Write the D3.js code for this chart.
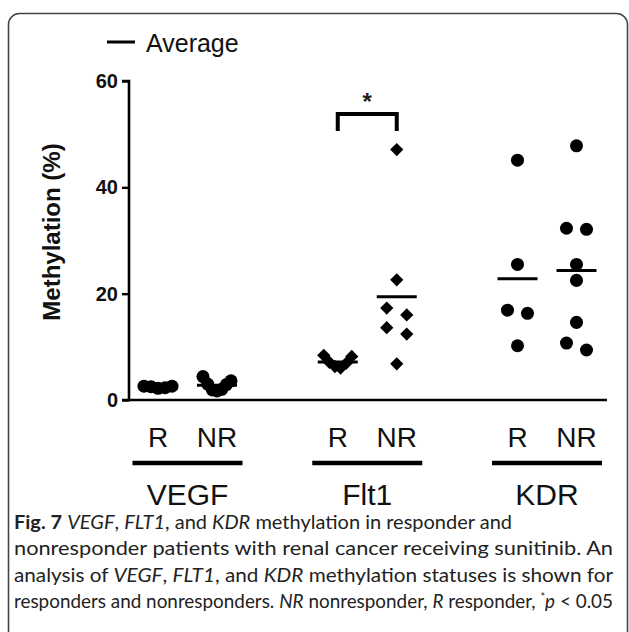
<!DOCTYPE html>
<html>
<head>
<meta charset="utf-8">
<script src="https://cdn.jsdelivr.net/npm/d3@7"></script>
<style>
  body { margin: 0; background: #fff; }
  svg { display: block; }
</style>
</head>
<body>
<div id="chart"></div>
<script>
// data (methylation %)
var groups = ["VEGF", "Flt1", "KDR"];
var subgroups = ["R", "NR"];
var yTicks = [0, 20, 40, 60];

var vegfR = [2.3, 2.6, 2.5, 2.6, 2.2];
var vegfNR = [4.4, 3.6, 3.0, 2.9, 2.0, 1.9, 1.7];
var flt1R = [8.4, 8.2, 7.1, 6.9, 6.3, 6.0];
var flt1NR = [47.1, 22.6, 17.3, 16.0, 13.6, 12.4, 6.8];
var kdrR = [45.1, 25.5, 16.9, 16.3, 10.2];
var kdrNR = [47.8, 32.3, 32.1, 25.5, 22.5, 14.6, 10.7, 9.4];

var series = [
  {group: "VEGF", sub: "R", values: vegfR, shape: "circle"},
  {group: "VEGF", sub: "NR", values: vegfNR, shape: "circle"},
  {group: "Flt1", sub: "R", values: flt1R, shape: "diamond"},
  {group: "Flt1", sub: "NR", values: flt1NR, shape: "diamond"},
  {group: "KDR", sub: "R", values: kdrR, shape: "circle"},
  {group: "KDR", sub: "NR", values: kdrNR, shape: "circle"}
];

var width = 629, height = 632;

var svg = d3.select("#chart")
  .append("svg")
    .attr("width", width)
    .attr("height", height);

// rounded frame
svg.append("rect")
  .attr("x", 8.5).attr("y", 13.5)
  .attr("width", 619).attr("height", 628)
  .attr("rx", 11)
  .attr("fill", "none")
  .attr("stroke", "#444")
  .attr("stroke-width", 1.6);

// scales
var y = d3.scaleLinear().domain([0, 60]).range([400, 81]);
var xGroup = d3.scalePoint().domain(groups).range([187.5, 547]);
var xSub = d3.scalePoint().domain(subgroups).range([-29.5, 29.5]);
var xPos = function(g, s) { return xGroup(g) + xSub(s); };

var axisLeft = 129, axisRight = 607;

// y axis
var yAxis = svg.append("g")
  .attr("transform", "translate(" + axisLeft + ",0)")
  .call(d3.axisLeft(y).tickValues(yTicks).tickSize(7).tickPadding(4));
yAxis.select(".domain").attr("stroke-width", 2.6).attr("d", "M-7," + y(60) + "H0V" + y(0) + "H-7");
yAxis.selectAll(".tick line").attr("stroke-width", 2.4);
yAxis.selectAll(".tick text")
  .attr("font-family", "Liberation Sans, Arial, sans-serif")
  .attr("font-weight", "bold")
  .attr("font-size", "20px")
  .attr("fill", "#111");

// x axis line
svg.append("line")
  .attr("x1", axisLeft).attr("x2", axisRight)
  .attr("y1", y(0)).attr("y2", y(0))
  .attr("stroke", "#000").attr("stroke-width", 2.6);

// y label
svg.append("text")
  .attr("transform", "translate(60," + 232 + ") rotate(-90)")
  .attr("text-anchor", "middle")
  .attr("font-family", "Liberation Sans, Arial, sans-serif")
  .attr("font-weight", "bold")
  .attr("font-size", "24px")
  .attr("fill", "#111")
  .text("Methylation (%)");

// beeswarm-ish layout: points closer than 10px vertically share a row
function layout(values) {
  var pts = values.map(function(v) { return {v: v, py: y(v)}; })
    .sort(function(a, b) { return a.py - b.py; });
  var clusters = [];
  pts.forEach(function(p, i) {
    if (i > 0 && p.py - pts[i - 1].py < 10) clusters[clusters.length - 1].push(p);
    else clusters.push([p]);
  });
  clusters.forEach(function(c) {
    var n = c.length;
    if (n == 1) { c[0].dx = 0; return; }
    var w = n == 2 ? 20 : 28;
    var slots = d3.range(n).map(function(i) { return -w / 2 + i * w / (n - 1); })
      .sort(function(a, b) { return (Math.abs(b) - Math.abs(a)) || (a - b); });
    c.forEach(function(p, i) { p.dx = slots[i]; });
  });
  return pts;
}

var circleSym = d3.symbol(d3.symbolCircle, 133);
var diamondSym = d3.symbol(d3.symbolSquare, 88);

series.forEach(function(s) {
  var cx = xPos(s.group, s.sub);
  var pts = layout(s.values);

  svg.append("g")
    .selectAll("path")
    .data(pts)
    .enter()
    .append("path")
      .attr("d", s.shape == "circle" ? circleSym() : diamondSym())
      .attr("transform", function(d) {
        return "translate(" + (cx + d.dx) + "," + d.py + ")" + (s.shape == "diamond" ? " rotate(45)" : "");
      })
      .attr("fill", "#000");

  // average line
  var m = d3.mean(s.values);
  svg.append("line")
    .attr("x1", cx - 20).attr("x2", cx + 20)
    .attr("y1", y(m)).attr("y2", y(m))
    .attr("stroke", "#000").attr("stroke-width", 3);
});

// R / NR labels
var subLabels = [];
groups.forEach(function(g) {
  subgroups.forEach(function(s) { subLabels.push({g: g, s: s}); });
});
svg.selectAll("subl")
  .data(subLabels)
  .enter()
  .append("text")
    .attr("x", function(d) { return xPos(d.g, d.s); })
    .attr("y", 447)
    .attr("text-anchor", "middle")
    .attr("font-family", "Liberation Sans, Arial, sans-serif")
    .attr("font-size", "28px")
    .attr("fill", "#111")
    .text(function(d) { return d.s; });

// group underline + name
svg.selectAll("gline")
  .data(groups)
  .enter()
  .append("line")
    .attr("x1", function(d) { return xGroup(d) - 55; })
    .attr("x2", function(d) { return xGroup(d) + 55; })
    .attr("y1", 463).attr("y2", 463)
    .attr("stroke", "#000").attr("stroke-width", 4.5);

svg.selectAll("gname")
  .data(groups)
  .enter()
  .append("text")
    .attr("x", function(d) { return xGroup(d); })
    .attr("y", 505)
    .attr("text-anchor", "middle")
    .attr("font-family", "Liberation Sans, Arial, sans-serif")
    .attr("font-size", "30px")
    .attr("fill", "#111")
    .text(function(d) { return d; });

// significance bracket for Flt1
var bx1 = xPos("Flt1", "R"), bx2 = xPos("Flt1", "NR");
svg.append("path")
  .attr("d", "M" + bx1 + ",131V114H" + bx2 + "V131")
  .attr("fill", "none")
  .attr("stroke", "#000")
  .attr("stroke-width", 4);
svg.append("text")
  .attr("x", (bx1 + bx2) / 2)
  .attr("y", 110)
  .attr("text-anchor", "middle")
  .attr("font-family", "Liberation Sans, Arial, sans-serif")
  .attr("font-weight", "bold")
  .attr("font-size", "24px")
  .attr("fill", "#222")
  .text("*");

// legend
svg.append("line")
  .attr("x1", 107).attr("x2", 135)
  .attr("y1", 42).attr("y2", 42)
  .attr("stroke", "#000").attr("stroke-width", 3);
svg.append("text")
  .attr("x", 146)
  .attr("y", 52)
  .attr("font-family", "Liberation Sans, Arial, sans-serif")
  .attr("font-size", "25px")
  .attr("fill", "#111")
  .text("Average");

// caption
var captionLines = [
  {len: 498, parts: [["b", "Fig. 7"], ["", " "], ["i", "VEGF"], ["", ", "], ["i", "FLT1"], ["", ", and "], ["i", "KDR"], ["", " methylation in responder and"]]},
  {len: 599, parts: [["", "nonresponder patients with renal cancer receiving sunitinib. An"]]},
  {len: 599, parts: [["", "analysis of "], ["i", "VEGF"], ["", ", "], ["i", "FLT1"], ["", ", and "], ["i", "KDR"], ["", " methylation statuses is shown for"]]},
  {len: 599, parts: [["", "responders and nonresponders. "], ["i", "NR"], ["", " nonresponder, "], ["i", "R"], ["", " responder, "], ["sup", "*"], ["i", "p"], ["", " < 0.05"]]}
];

captionLines.forEach(function(line, i) {
  var t = svg.append("text")
    .attr("x", 14)
    .attr("y", 529 + i * 26.3)
    .attr("font-family", "Lato, 'Open Sans', sans-serif")
    .attr("font-size", "19px")
    .attr("fill", "#222")
    .attr("textLength", line.len)
    .attr("lengthAdjust", "spacingAndGlyphs");
  line.parts.forEach(function(p) {
    var ts = t.append("tspan").text(p[1]);
    if (p[0] == "b") ts.attr("font-weight", "bold");
    if (p[0] == "i") ts.attr("font-style", "italic");
    if (p[0] == "sup") ts.attr("font-size", "11px").attr("dy", -7);
    if (p[0] == "i" && p[1] == "p") ts.attr("dy", 7);
  });
});
</script>
</body>
</html>
